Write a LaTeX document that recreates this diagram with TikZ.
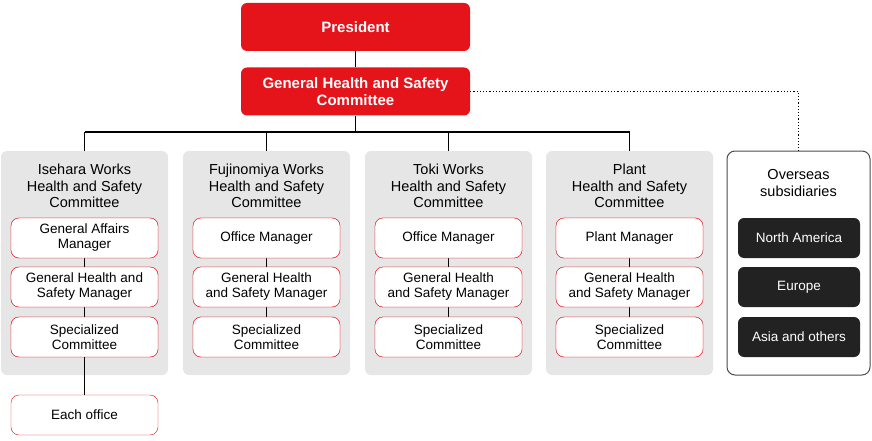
\documentclass[tikz,border=0pt]{standalone}
\usepackage{fontspec}
\setmainfont{Liberation Sans}
\definecolor{cred}{HTML}{E5141B}
\definecolor{cgray}{HTML}{E6E6E6}
\definecolor{cdark}{HTML}{222222}
\begin{document}
\begin{tikzpicture}[x=1pt,y=-1pt,
  redbox/.style={fill=cred,rounded corners=6pt,text=white,font=\fontsize{15}{17}\selectfont\bfseries,minimum width=229pt,minimum height=48pt,align=center,inner sep=0pt},
  panel/.style={fill=cgray,rounded corners=6pt,minimum width=167pt,minimum height=224pt,inner sep=0pt},
  title/.style={font=\fontsize{14.5}{16.5}\selectfont,align=center,inner sep=0pt},
  ibox/.style={draw=cred,fill=white,rounded corners=8pt,minimum width=147pt,minimum height=40pt,align=center,font=\fontsize{13.5}{15}\selectfont,inner sep=0pt},
  dbox/.style={fill=cdark,text=white,rounded corners=6pt,minimum width=122pt,minimum height=40pt,font=\fontsize{13.5}{15}\selectfont,inner sep=0pt},
  conn/.style={line width=1.5pt}]
\useasboundingbox (0,0) rectangle (872,441);
\node[redbox] (pres) at (355.5,27) {President};
\node[redbox] (ghsc) at (355.5,91.5) {General Health and Safety\\Committee};
\coordinate (hub) at (355.5,132);
\draw[conn] (pres) -- (ghsc) -- (hub);
\foreach \n/\x in {a/84.5,b/266.5,c/448.5,d/629.5}{
  \node[panel] (p\n) at (\x,263) {};
  \coordinate (t\n) at (\x,132);
  \node[ibox] (\n1) at (\x,238) {};
  \node[ibox] (\n2) at (\x,287) {};
  \node[ibox] (\n3) at (\x,337) {};
}
\draw[conn] (ta) -- (td);
\foreach \n in {a,b,c,d}{\draw[conn] (t\n) -- (p\n.north); \draw[conn] (\n1) -- (\n2) -- (\n3);}
\node[title] at (84.5,186) {Isehara Works\\Health and Safety\\Committee};
\node[title] at (266.5,186) {Fujinomiya Works\\Health and Safety\\Committee};
\node[title] at (448.5,186) {Toki Works\\Health and Safety\\Committee};
\node[title] at (629.5,186) {Plant\\Health and Safety\\Committee};
\node[ibox] at (a1) {General Affairs\\Manager};
\node[ibox] at (a2) {General Health and\\Safety Manager};
\node[ibox] at (a3) {Specialized\\Committee};
\node[ibox] at (b1) {Office Manager};
\node[ibox] at (b2) {General Health\\and Safety Manager};
\node[ibox] at (b3) {Specialized\\Committee};
\node[ibox] at (c1) {Office Manager};
\node[ibox] at (c2) {General Health\\and Safety Manager};
\node[ibox] at (c3) {Specialized\\Committee};
\node[ibox] at (d1) {Plant Manager};
\node[ibox] at (d2) {General Health\\and Safety Manager};
\node[ibox] at (d3) {Specialized\\Committee};
\node[ibox] (each) at (84.5,415) {Each office};
\draw[conn] (a3) -- (each);
\node[draw=black!70,line width=1pt,fill=white,rounded corners=8pt,minimum width=143pt,minimum height=224pt,inner sep=0pt] (ov) at (798.5,263) {};
\node[title] at (798.5,183) {Overseas\\subsidiaries};
\node[dbox] at (799,238) {North America};
\node[dbox] at (799,287) {Europe};
\node[dbox] at (799,337) {Asia and others};
\draw[dotted,line width=1.2pt] (ghsc.east) -| (ov.north);
\end{tikzpicture}
\end{document}
